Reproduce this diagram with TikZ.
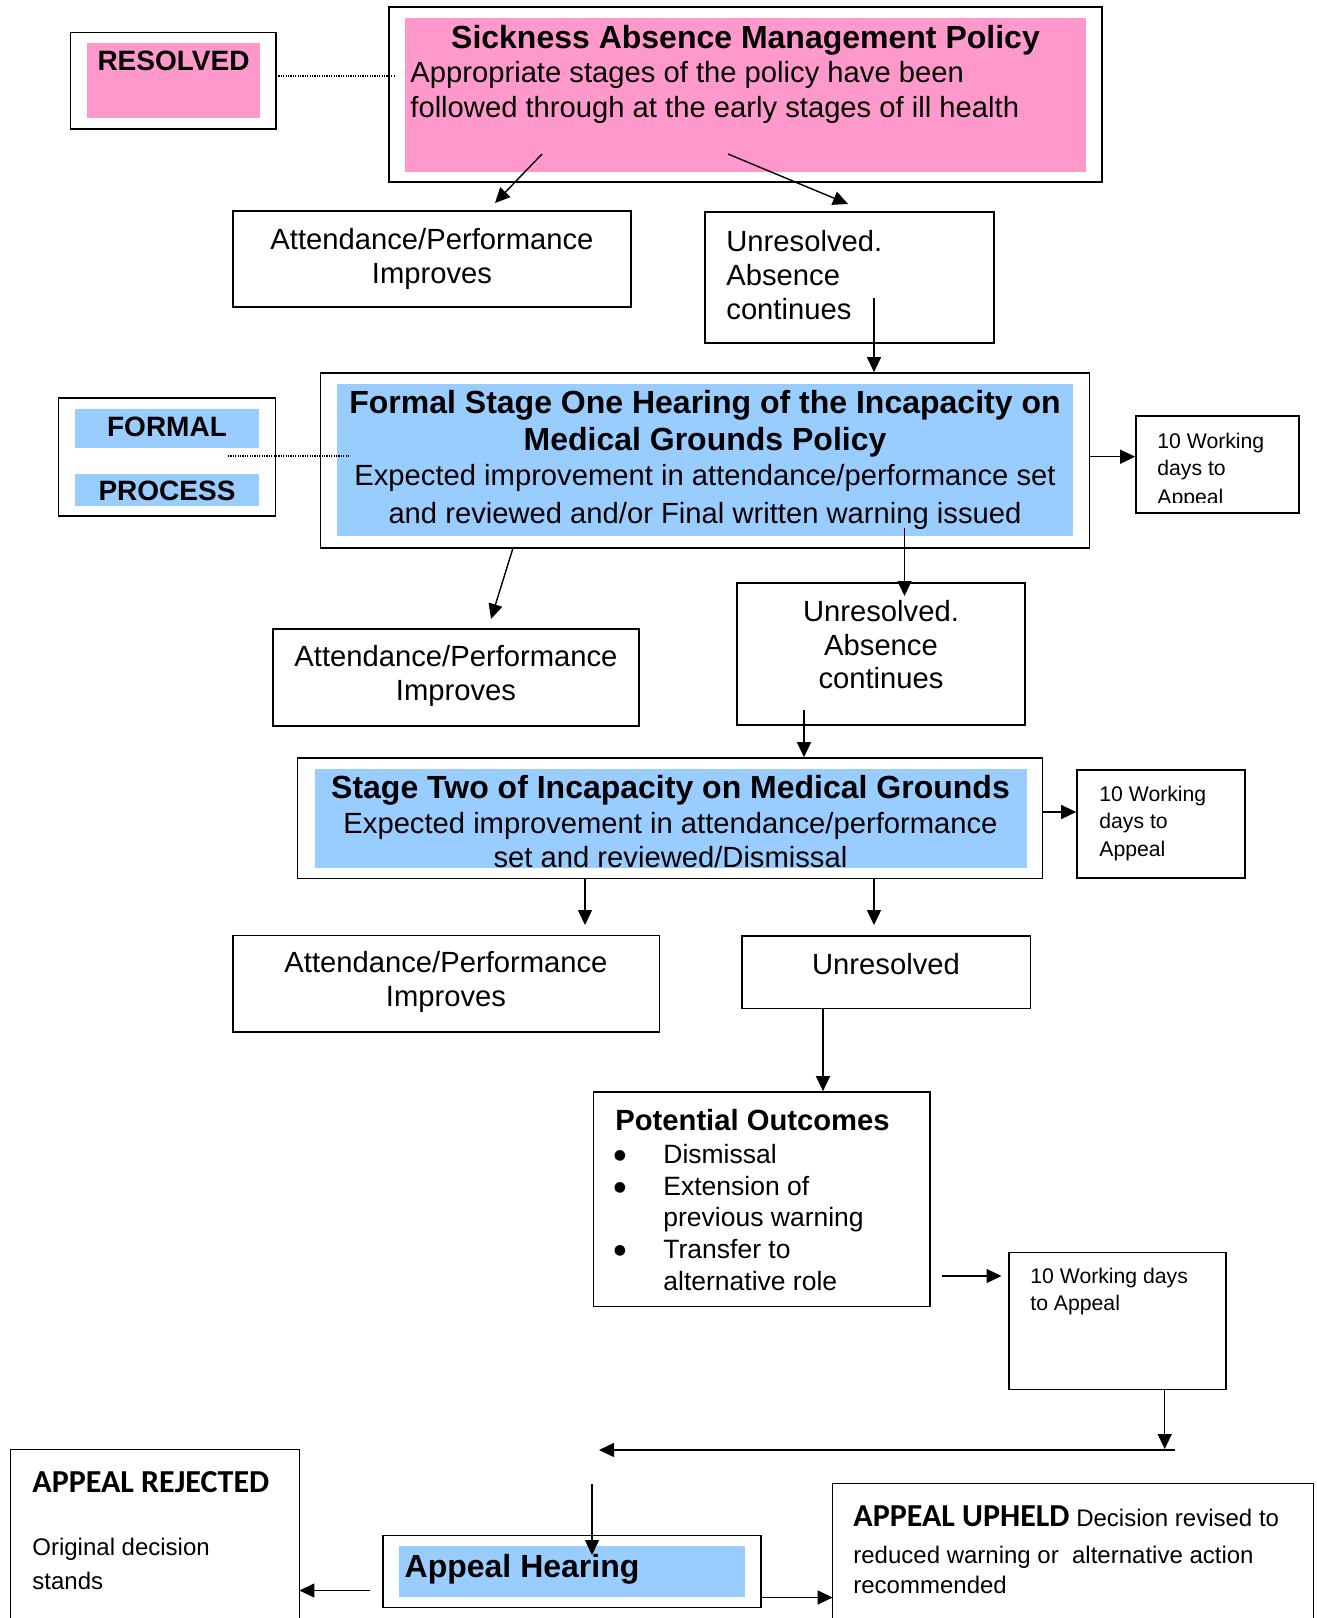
\documentclass[tikz,border=0pt]{standalone}
\usepackage{fontspec}
\setmainfont{Liberation Sans}
\newfontfamily\calfont{Carlito}
\newfontfamily\bulfont{DejaVu Sans}
\usetikzlibrary{arrows.meta,fit}
\definecolor{pinkfill}{HTML}{FF99CC}
\definecolor{bluefill}{HTML}{99CCFF}
\tikzset{
  boxline/.style={draw=black, line width=0.85pt, inner sep=0pt},
  openbox/.style={inner sep=0pt},
  fillpink/.style={fill=pinkfill, inner sep=0pt},
  fillblue/.style={fill=bluefill, inner sep=0pt},
  arr/.style={draw=black, line width=0.7pt, -{Triangle[length=7.5pt,width=7pt]}},
  dotline/.style={draw=black, line width=0.8pt, dash pattern=on 0.6pt off 0.6pt},
  ttl/.style={font=\fontsize{16}{19}\selectfont\bfseries, inner sep=0pt},
  lab/.style={font=\fontsize{14}{17}\selectfont\bfseries, inner sep=0pt},
  body/.style={font=\fontsize{14.6}{17}\selectfont, inner sep=0pt},
  item/.style={font=\fontsize{13.25}{16}\selectfont, inner sep=0pt},
  bul/.style={font=\bulfont\fontsize{7}{9}\selectfont, inner sep=0pt},
  small/.style={font=\fontsize{10.6}{13}\selectfont, inner sep=0pt},
  calttl/.style={font=\calfont\fontsize{16}{19}\selectfont\bfseries, inner sep=0pt},
  cbody/.style={font=\fontsize{12}{14}\selectfont, inner sep=0pt},
}
\begin{document}
\begin{tikzpicture}[x=0.5pt,y=-0.5pt]
\useasboundingbox (0,0) rectangle (1317,1618);

% ---------- top: Sickness Absence Management Policy ----------
\node[boxline, fit={(70.5,32.5) (276,129)}] (resolved) {};
\node[fillpink, fit={(87,43) (260,118)}] (resolvedfill) {};
\node[lab, anchor=base] (resolvedtxt) at (173.5,70) {RESOLVED};

\node[boxline, fit={(389,7) (1102,182)}] (main) {};
\node[fillpink, fit={(405,18) (1086,172)}] (mainfill) {};
\node[ttl, anchor=base] (maint) at (745.5,48) {Sickness Absence Management Policy};
\node[body, anchor=base west] (mainb1) at (410,82.5) {Appropriate stages of the policy have been};
\node[body, anchor=base west] (mainb2) at (410,117) {followed through at the early stages of ill health};

\node[boxline, fit={(233,211) (631,307)}] (att1) {};
\node[body, anchor=base] (att1a) at (432,249.5) {Attendance/Performance};
\node[body, anchor=base] (att1b) at (432,283.5) {Improves};

\node[boxline, fit={(705,212) (994,343)}] (unres1) {};
\node[body, anchor=base west] (unres1a) at (726,251) {Unresolved.};
\node[body, anchor=base west] (unres1b) at (726,285) {Absence};
\node[body, anchor=base west] (unres1c) at (726,319.5) {continues};

% ---------- Formal stage one ----------
\node[boxline, fit={(58.5,398) (275.5,516)}] (formalbox) {};
\node[fillblue, fit={(75,409) (259,448)}] (formalstrip) {};
\node[fillblue, fit={(75,474) (259,506)}] (processstrip) {};
\node[lab, anchor=base] (formaltxt) at (167,436) {FORMAL};
\node[lab, anchor=base] (processtxt) at (167,500.5) {PROCESS};

\node[boxline, fit={(320.5,373) (1089.5,548)}] (formal) {};
\node[fillblue, fit={(337,384) (1072.5,536)}] (formalfill) {};
\node[ttl, anchor=base] (formalt1) at (705,413) {Formal Stage One Hearing of the Incapacity on};
\node[ttl, anchor=base] (formalt2) at (705,450) {Medical Grounds Policy};
\node[body, anchor=base] (formalb1) at (705,485.5) {Expected improvement in attendance/performance set};
\node[body, anchor=base] (formalb2) at (705,523.5) {and reviewed and/or Final written warning issued};

\node[boxline, fit={(1136,416) (1299,513)}] (wd1) {};
\coordinate (wd1clip) at (1299,502);
\begin{scope}
\clip (wd1.north west) rectangle (wd1clip);
\node[small, anchor=base west] (wd1a) at (1157,448) {10 Working};
\node[small, anchor=base west] (wd1b) at (1157,475.5) {days to};
\node[small, anchor=base west] (wd1c) at (1157,504) {Appeal};
\end{scope}

\node[boxline, fit={(273,629) (639,726)}] (att2) {};
\node[body, anchor=base] (att2a) at (456,666.5) {Attendance/Performance};
\node[body, anchor=base] (att2b) at (456,700.5) {Improves};

\node[boxline, fit={(737,583) (1025,725)}] (unres2) {};
\node[body, anchor=base] (unres2a) at (881,621.5) {Unresolved.};
\node[body, anchor=base] (unres2b) at (881,655) {Absence};
\node[body, anchor=base] (unres2c) at (881,688) {continues};

% ---------- Stage two ----------
\node[boxline, fit={(297.5,758) (1042.5,878.5)}] (stage2) {};
\node[fillblue, fit={(314.5,769) (1027,868)}] (stage2fill) {};
\node[ttl, anchor=base] (stage2t) at (670.5,798.5) {Stage Two of Incapacity on Medical Grounds};
\node[body, anchor=base] (stage2b1) at (670.5,833.5) {Expected improvement in attendance/performance};
\node[body, anchor=base] (stage2b2) at (670.5,867.5) {set and reviewed/Dismissal};

\node[boxline, fit={(1077,770) (1245,878)}] (wd2) {};
\node[small, anchor=base west] (wd2a) at (1099,801.5) {10 Working};
\node[small, anchor=base west] (wd2b) at (1099,828) {days to};
\node[small, anchor=base west] (wd2c) at (1099,856) {Appeal};

\node[boxline, fit={(233,935.5) (659.5,1032)}] (att3) {};
\node[body, anchor=base] (att3a) at (446,972.5) {Attendance/Performance};
\node[body, anchor=base] (att3b) at (446,1006.5) {Improves};

\node[boxline, fit={(742,936) (1030.5,1008.5)}] (unres3) {};
\node[body, anchor=base] (unres3a) at (886,974) {Unresolved};

% ---------- Potential outcomes ----------
\node[boxline, fit={(593.5,1092) (930,1306.5)}] (pot) {};
\node[body, font=\fontsize{14.6}{17}\selectfont\bfseries, anchor=base west] (pott) at (615,1130.5) {Potential Outcomes};
\node[bul, anchor=base] (potd1) at (620,1159.5) {●};
\node[item, anchor=base west] (pot1) at (663,1163.8) {Dismissal};
\node[bul, anchor=base] (potd2) at (620,1191) {●};
\node[item, anchor=base west] (pot2) at (663,1195.3) {Extension of};
\node[item, anchor=base west] (pot3) at (663,1226.7) {previous warning};
\node[bul, anchor=base] (potd3) at (620,1254) {●};
\node[item, anchor=base west] (pot4) at (663,1258.3) {Transfer to};
\node[item, anchor=base west] (pot5) at (663,1290) {alternative role};

\node[boxline, fit={(1009,1252.5) (1226,1389.5)}] (wd3) {};
\node[small, anchor=base west] (wd3a) at (1030,1283) {10 Working days};
\node[small, anchor=base west] (wd3b) at (1030,1310.5) {to Appeal};

% ---------- Appeal ----------
\node[boxline, fit={(383,1535.5) (761,1607.5)}] (appeal) {};
\node[fillblue, fit={(399,1546) (745,1596.7)}] (appealfill) {};
\node[ttl, anchor=base west] (appealt) at (404.3,1577.5) {Appeal Hearing};

\node[openbox, fit={(11,1450) (299,1618)}] (rejected) {};
\draw[line width=0.85pt] (rejected.south west) -- (rejected.north west) -- (rejected.north east) -- (rejected.south east);
\node[calttl, anchor=base west] (rejt) at (32,1492.5) {APPEAL REJECTED};
\node[cbody, anchor=base west] (rej1) at (32,1555.5) {Original decision};
\node[cbody, anchor=base west] (rej2) at (32,1589.5) {stands};

\node[openbox, fit={(833,1484) (1313,1618)}] (upheld) {};
\draw[line width=0.85pt] (upheld.south west) -- (upheld.north west) -- (upheld.north east) -- (upheld.south east);
\node[cbody, anchor=base west] (uph1) at (853,1526) {{\calfont\fontsize{16}{19}\selectfont\bfseries APPEAL UPHELD} Decision revised to};
\node[cbody, anchor=base west] (uph2) at (853,1563) {reduced warning or\ \ alternative action};
\node[cbody, anchor=base west] (uph3) at (853,1593.5) {recommended};

% ---------- connectors ----------
\coordinate (d1s) at (276,76);
\coordinate (d1e) at (395,76);
\draw[dotline] (d1s) -- (d1e);
\coordinate (d2s) at (228,455.7);
\coordinate (d2e) at (349.5,455.7);
\draw[dotline] (d2s) -- (d2e);

\coordinate (a1s) at (542,154);
\coordinate (a1e) at (495,203);
\draw[arr] (a1s) -- (a1e);
\coordinate (a2s) at (728,154);
\coordinate (a2e) at (848,204);
\draw[arr] (a2s) -- (a2e);
\coordinate (a3s) at (874,298);
\draw[arr] (a3s) -- (a3s |- formal.north);
\coordinate (a4y) at (0,456.7);
\draw[arr] (formal.east |- a4y) -- (wd1.west |- a4y);
\coordinate (a5s) at (513,548);
\coordinate (a5e) at (491,619);
\draw[arr] (a5s) -- (a5e);
\coordinate (a6s) at (904.5,528);
\coordinate (a6e) at (904.5,596);
\draw[arr] (a6s) -- (a6e);
\coordinate (a7s) at (804,710);
\draw[arr] (a7s) -- (a7s |- stage2.north);
\coordinate (a8y) at (0,812);
\draw[arr] (stage2.east |- a8y) -- (wd2.west |- a8y);
\coordinate (a9e) at (585,925);
\draw[arr] (a9e |- stage2.south) -- (a9e);
\coordinate (a10e) at (874,925);
\draw[arr] (a10e |- stage2.south) -- (a10e);
\coordinate (a11x) at (823,0);
\draw[arr] (a11x |- unres3.south) -- (a11x |- pot.north);
\coordinate (a12s) at (942,1276);
\coordinate (a12e) at (1001.5,1276);
\draw[arr] (a12s) -- (a12e);
\coordinate (a13e) at (1164.7,1449);
\draw[arr] (a13e |- wd3.south) -- (a13e);
\coordinate (a14s) at (1175,1450);
\coordinate (a14e) at (599,1450);
\draw[arr] (a14s) -- (a14e);
\coordinate (a15s) at (592,1484);
\coordinate (a15e) at (592,1555);
\draw[arr] (a15s) -- (a15e);
\coordinate (a16s) at (370,1590.5);
\draw[arr] (a16s) -- (rejected.east |- a16s);
\coordinate (a17y) at (0,1597.5);
\draw[arr] (appeal.east |- a17y) -- (upheld.west |- a17y);
\end{tikzpicture}
\end{document}
